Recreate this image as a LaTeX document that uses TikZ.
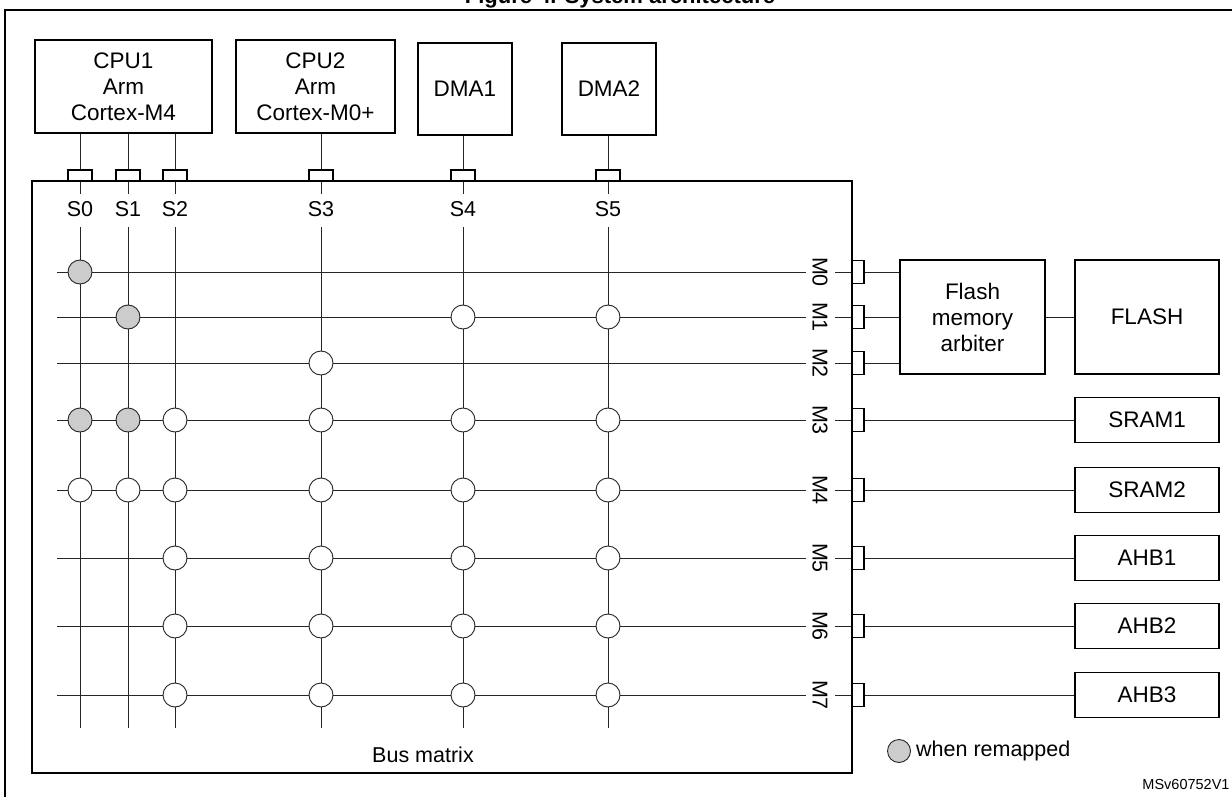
\documentclass[tikz,border=0pt]{standalone}
\usepackage{fontspec}
\setmainfont{Liberation Sans}
\usetikzlibrary{positioning}
\usetikzlibrary{calc}
\tikzset{>=latex}
\tikzstyle{unit}=[draw=black,line width=1.2pt,shape=rectangle,fill=white,align=center,inner sep=0pt,font=\fontsize{22.5}{26}\selectfont]
\tikzstyle{port}=[draw=black,line width=1.2pt,shape=rectangle,fill=white,inner sep=0pt]
\tikzstyle{xbar}=[black!85,line width=0.9pt]
\tikzstyle{sw}=[draw=black!85,line width=0.9pt,shape=circle,fill=white,minimum size=24pt,inner sep=0pt]
\tikzstyle{remap}=[sw,fill=black!20]
\tikzstyle{lab}=[font=\fontsize{21.5}{25}\selectfont,inner sep=1pt]

\begin{document}
\begin{tikzpicture}[x=1pt,y=-1pt]
	\useasboundingbox (0,0) rectangle (1232,797);
	
	% Frame and title
	\node[font=\bfseries\fontsize{22}{26}\selectfont] (title) at (620,-2) {Figure 4. System architecture};
	\draw[line width=1.2pt] (5,830) -- (5,10) -- (1260,10);
	
	% Masters
	\node[unit,minimum width=177pt,minimum height=93pt] (cpu1) at (123.5,86.5) {CPU1\\Arm\\Cortex-M4};
	\node[unit,minimum width=159pt,minimum height=93pt] (cpu2) at (315.5,86.5) {CPU2\\Arm\\Cortex-M0+};
	\node[unit,minimum width=94pt,minimum height=92pt] (dma1) at (465,89) {DMA1};
	\node[unit,minimum width=94pt,minimum height=92pt] (dma2) at (609,89) {DMA2};
	
	% Bus matrix
	\node[unit,minimum width=820pt,minimum height=592pt] (matrix) at (442,477) {};
	\node[lab] (mlabel) at (423,755) {Bus matrix};
	
	% Slave ports S0..S5
	\foreach \name/\x/\src in {s0/80/cpu1,s1/128/cpu1,s2/175/cpu1,s3/321/cpu2,s4/463/dma1,s5/608/dma2} {
		\node[port,minimum width=24pt,minimum height=11pt] (p\name) at (\x,175.5) {};
		\coordinate (t\name) at (\x,227);
		\coordinate (b\name) at (\x,728);
		\draw[xbar] (\src.south -| p\name) -- (p\name.north);
		\draw[xbar] (p\name.south) -- ++(0,12);
		\draw[xbar] (t\name) -- (b\name);
	}
	\foreach \name/\txt in {s0/S0,s1/S1,s2/S2,s3/S3,s4/S4,s5/S5}
		\node[lab] at ($(p\name)+(0,34)$) {\txt};
	
	% Master ports M0..M7
	\foreach \i/\y in {0/272,1/317,2/363,3/420,4/490,5/558,6/626,7/695} {
		\coordinate (l\i) at (57,\y);
		\node[lab,rotate=-90] (ml\i) at (820,\y) {M\i};
		\node[port,minimum width=12pt,minimum height=23pt] (q\i) at (858,\y) {};
		\draw[xbar] (l\i) -- (806,\y);
		\draw[xbar] (835,\y) -- (q\i.west);
	}
	
	% Crossbar switches
	\foreach \s/\m in {s4/1,s5/1,s3/2,s2/3,s3/3,s4/3,s5/3,s0/4,s1/4,s2/4,s3/4,s4/4,s5/4,
		s2/5,s3/5,s4/5,s5/5,s2/6,s3/6,s4/6,s5/6,s2/7,s3/7,s4/7,s5/7}
		\node[sw] at (t\s |- l\m) {};
	\foreach \s/\m in {s0/0,s1/1,s0/3,s1/3}
		\node[remap] at (t\s |- l\m) {};
	
	% Slaves
	\node[unit,minimum width=145pt,minimum height=114pt] (arb) at (972.5,317) {Flash\\memory\\arbiter};
	\node[unit,minimum width=144pt,minimum height=114pt] (flash) at (1147,317) {FLASH};
	\foreach \name/\txt/\i in {sram1/SRAM1/3,sram2/SRAM2/4,ahb1/AHB1/5,ahb2/AHB2/6,ahb3/AHB3/7} {
		\node[unit,minimum width=144pt,minimum height=45pt] (\name) at (1147,0 |- l\i) {\txt};
		\draw[xbar] (q\i.east) -- (\name.west);
	}
	\foreach \i in {0,1,2}
		\draw[xbar] (q\i.east) -- (arb.west |- q\i);
	\draw[xbar] (arb) -- (flash);
	
	% Legend
	\node[remap,minimum size=23pt] (key) at (899,751) {};
	\node[lab,anchor=west] (keytxt) at ($(key.east)+(4,0)$) {when remapped};
	\node[font=\fontsize{14.5}{17}\selectfont] (ref) at (1186,785) {MSv60752V1};
\end{tikzpicture}
\end{document}
